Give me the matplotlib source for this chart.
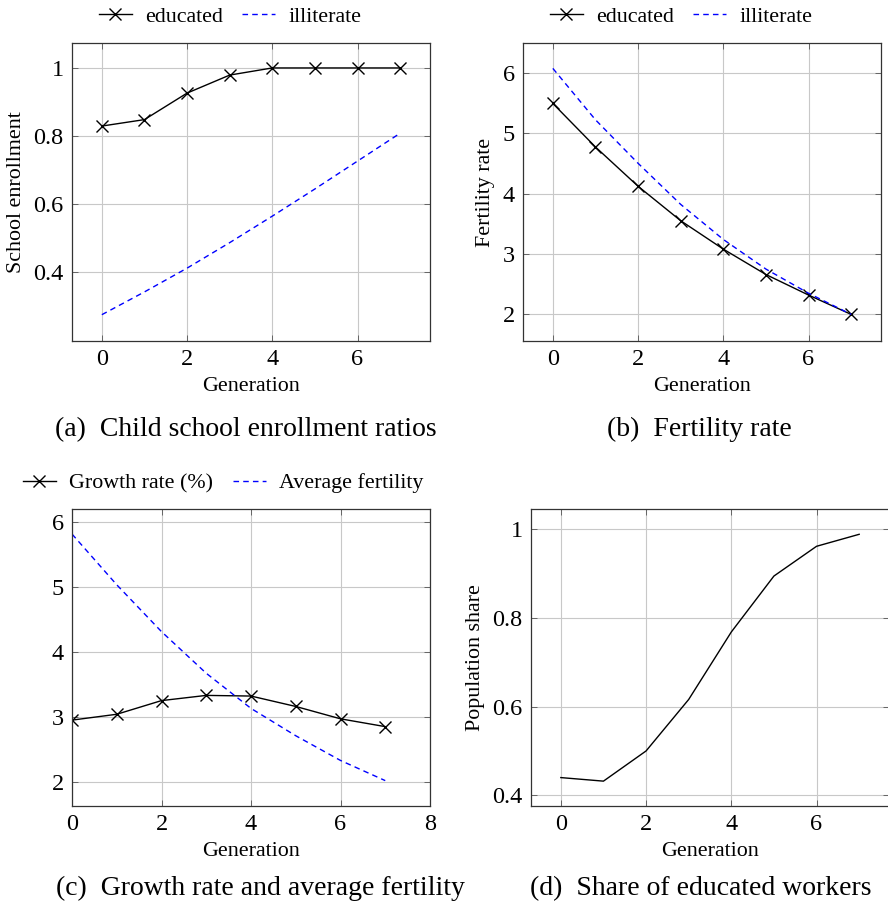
import matplotlib
matplotlib.use("Agg")
import matplotlib.pyplot as plt
import numpy as np

plt.rcParams["font.family"] = ["Liberation Serif", "DejaVu Serif"]
plt.rcParams["mathtext.fontset"] = "stix"

gen = np.arange(8)

# (a) school enrollment
enroll_edu = [0.829, 0.848, 0.926, 0.979, 1.0, 1.0, 1.0, 1.0]
enroll_ill = [0.274, 0.341, 0.411, 0.486, 0.564, 0.644, 0.726, 0.808]

# (b) fertility rate
fert_edu = [5.49, 4.77, 4.12, 3.55, 3.08, 2.66, 2.32, 2.0]
fert_ill = [6.07, 5.22, 4.50, 3.82, 3.24, 2.75, 2.35, 2.0]

# (c) growth rate and average fertility
growth = [2.95, 3.04, 3.25, 3.33, 3.32, 3.16, 2.97, 2.85]
avg_fert = [5.81, 5.03, 4.31, 3.67, 3.13, 2.71, 2.33, 2.02]

# (d) share of educated workers
share_edu = [0.440, 0.432, 0.500, 0.616, 0.768, 0.894, 0.961, 0.988]

W, H = 888, 914
fig = plt.figure(figsize=(W / 100, H / 100), dpi=100)

FS = 15.8      # legend / axis labels
TFS = 17.5     # tick labels
CAP = 20


def make_axes(l, t, r, b):
    return fig.add_axes([l / W, 1 - b / H, (r - l) / W, (b - t) / H])


def style(ax):
    ax.grid(True, color="#c8c8c8", lw=0.8)
    ax.set_axisbelow(True)
    ax.tick_params(direction="in", top=True, right=True, length=4, width=0.6,
                   color="#555555", labelsize=TFS, pad=6)
    for s in ax.spines.values():
        s.set_color("#333333")
        s.set_linewidth(0.9)
    ax.set_xlabel("Generation", fontsize=FS, labelpad=5)


edu_kw = dict(color="black", lw=1.0, marker="x", ms=9, mew=1.0)
ill_kw = dict(color="blue", lw=1.0, ls=(0, (4, 3)))


def legend(ax, labels, cx, cy):
    h1, = ax.plot([], [], **edu_kw)
    h2, = ax.plot([], [], **ill_kw)
    fig.legend([h1, h2], labels, loc="center", bbox_to_anchor=(cx / W, 1 - cy / H),
               ncol=2, frameon=False, fontsize=FS, handlelength=1.5,
               handletextpad=0.6, columnspacing=0.9, borderpad=0, borderaxespad=0)


# (a)
ax = make_axes(72, 43, 430, 341)
ax.plot(gen, enroll_edu, **edu_kw)
ax.plot(gen, enroll_ill, **ill_kw)
ax.set_xlim(-0.7, 7.7)
ax.set_ylim(0.1966, 1.0734)
ax.set_xticks([0, 2, 4, 6])
ax.set_yticks([0.4, 0.6, 0.8, 1.0])
ax.set_yticklabels(["0.4", "0.6", "0.8", "1"])
style(ax)
ax.set_ylabel("School enrollment", fontsize=FS, labelpad=5)
legend(ax, ["educated", "illiterate"], 230, 17)
fig.text(246 / W, 1 - 436 / H, "(a)  Child school enrollment ratios", fontsize=CAP,
         ha="center", va="baseline")

# (b)
ax = make_axes(523, 43, 881, 341)
ax.plot(gen, fert_edu, **edu_kw)
ax.plot(gen, fert_ill, **ill_kw)
ax.set_xlim(-0.7, 7.7)
ax.set_ylim(1.56, 6.49)
ax.set_xticks([0, 2, 4, 6])
ax.set_yticks([2, 3, 4, 5, 6])
style(ax)
ax.set_ylabel("Fertility rate", fontsize=FS, labelpad=5)
legend(ax, ["educated", "illiterate"], 681, 17)
fig.text(699 / W, 1 - 436 / H, "(b)  Fertility rate", fontsize=CAP,
         ha="center", va="baseline")

# (c)
ax = make_axes(72, 509, 430, 806)
ax.plot(gen, growth, **edu_kw)
ax.plot(gen, avg_fert, **ill_kw)
ax.set_xlim(0, 8)
ax.set_ylim(1.63, 6.195)
ax.set_xticks([0, 2, 4, 6, 8])
ax.set_yticks([2, 3, 4, 5, 6])
style(ax)
legend(ax, ["Growth rate (%)", "Average fertility"], 223, 483)
fig.text(260 / W, 1 - 895 / H, "(c)  Growth rate and average fertility", fontsize=CAP,
         ha="center", va="baseline")

# (d)
ax = make_axes(531, 509, 889, 806)
ax.plot(gen, share_edu, color="black", lw=1.0)
ax.set_xlim(-0.7, 7.7)
ax.set_ylim(0.376, 1.045)
ax.set_xticks([0, 2, 4, 6])
ax.set_yticks([0.4, 0.6, 0.8, 1.0])
ax.set_yticklabels(["0.4", "0.6", "0.8", "1"])
style(ax)
ax.set_ylabel("Population share", fontsize=FS, labelpad=5)
fig.text(701 / W, 1 - 895 / H, "(d)  Share of educated workers", fontsize=CAP,
         ha="center", va="baseline")

fig.savefig("out.png", dpi=100)
